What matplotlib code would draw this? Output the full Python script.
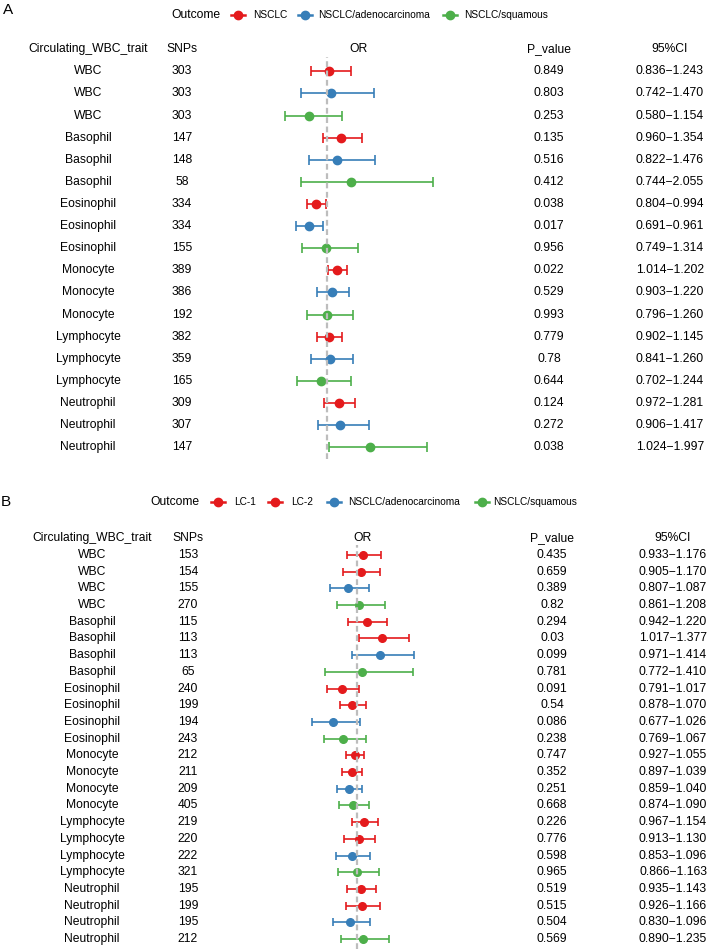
import matplotlib
matplotlib.use("Agg")
import matplotlib.pyplot as plt
from matplotlib.lines import Line2D
from matplotlib.transforms import blended_transform_factory

plt.rcParams['font.family'] = ['Liberation Sans', 'DejaVu Sans']

# ---------------- Panel A data ----------------
traits_a = ['WBC', 'WBC', 'WBC', 'Basophil', 'Basophil', 'Basophil',
            'Eosinophil', 'Eosinophil', 'Eosinophil', 'Monocyte', 'Monocyte', 'Monocyte',
            'Lymphocyte', 'Lymphocyte', 'Lymphocyte', 'Neutrophil', 'Neutrophil', 'Neutrophil']
outcome_a = ['NSCLC', 'NSCLC/adenocarcinoma', 'NSCLC/squamous'] * 6
snps_a = [303, 303, 303, 147, 148, 58, 334, 334, 155, 389, 386, 192, 382, 359, 165, 309, 307, 147]
pval_a = ['0.849', '0.803', '0.253', '0.135', '0.516', '0.412', '0.038', '0.017', '0.956',
          '0.022', '0.529', '0.993', '0.779', '0.78', '0.644', '0.124', '0.272', '0.038']
or_a = [1.019, 1.044, 0.818, 1.140, 1.101, 1.237, 0.894, 0.815, 0.992,
        1.104, 1.050, 1.001, 1.016, 1.029, 0.935, 1.116, 1.133, 1.430]
lo_a = [0.836, 0.742, 0.580, 0.960, 0.822, 0.744, 0.804, 0.691, 0.749,
        1.014, 0.903, 0.796, 0.902, 0.841, 0.702, 0.972, 0.906, 1.024]
hi_a = [1.243, 1.470, 1.154, 1.354, 1.476, 2.055, 0.994, 0.961, 1.314,
        1.202, 1.220, 1.260, 1.145, 1.260, 1.244, 1.281, 1.417, 1.997]

# ---------------- Panel B data ----------------
traits_b = ['WBC'] * 4 + ['Basophil'] * 4 + ['Eosinophil'] * 4 + ['Monocyte'] * 4 + \
           ['Lymphocyte'] * 4 + ['Neutrophil'] * 4
outcome_b = ['LC-1', 'LC-2', 'NSCLC/adenocarcinoma', 'NSCLC/squamous'] * 6
snps_b = [153, 154, 155, 270, 115, 113, 113, 65, 240, 199, 194, 243,
          212, 211, 209, 405, 219, 220, 222, 321, 195, 199, 195, 212]
pval_b = ['0.435', '0.659', '0.389', '0.82', '0.294', '0.03', '0.099', '0.781',
          '0.091', '0.54', '0.086', '0.238', '0.747', '0.352', '0.251', '0.668',
          '0.226', '0.776', '0.598', '0.965', '0.519', '0.515', '0.504', '0.569']
or_b = [1.047, 1.029, 0.937, 1.020, 1.072, 1.183, 1.172, 1.043,
        0.897, 0.969, 0.833, 0.906, 0.989, 0.965, 0.945, 0.976,
        1.056, 1.016, 0.967, 1.004, 1.034, 1.039, 0.954, 1.048]
lo_b = [0.933, 0.905, 0.807, 0.861, 0.942, 1.017, 0.971, 0.772,
        0.791, 0.878, 0.677, 0.769, 0.927, 0.897, 0.859, 0.874,
        0.967, 0.913, 0.853, 0.866, 0.935, 0.926, 0.830, 0.890]
hi_b = [1.176, 1.170, 1.087, 1.208, 1.220, 1.377, 1.414, 1.410,
        1.017, 1.070, 1.026, 1.067, 1.055, 1.039, 1.040, 1.090,
        1.154, 1.130, 1.096, 1.163, 1.143, 1.166, 1.096, 1.235]

headers = ['Circulating_WBC_trait', 'SNPs', 'OR', 'P_value', '95%CI']

colors = {'NSCLC': '#E41A1C', 'LC-1': '#E41A1C', 'LC-2': '#E41A1C',
          'NSCLC/adenocarcinoma': '#377EB8', 'NSCLC/squamous': '#4DAF4A'}

W, H = 709, 949
fig = plt.figure(figsize=(W / 100, H / 100), dpi=100)

TS = 8.7  # table font size


def px_axes(left, right, top, bottom):
    return fig.add_axes([left / W, 1 - bottom / H, (right - left) / W, (bottom - top) / H])


def draw_panel(ax, traits, outcomes, snps, pvals, ors, los, his, xlim, ylim,
               col_x, or_x, cap, ms):
    ax.set_xlim(*xlim)
    ax.set_ylim(*ylim)
    ax.axis('off')
    tr = blended_transform_factory(fig.transFigure, ax.transData)
    n = len(traits)
    for i in range(n):
        c = colors[outcomes[i]]
        ax.errorbar(ors[i], i, xerr=[[ors[i] - los[i]], [his[i] - ors[i]]],
                    fmt='o', color=c, ecolor=c, elinewidth=1.2, capsize=cap,
                    capthick=1.2, markersize=ms, clip_on=False, zorder=3)
        row = [traits[i], str(snps[i]), pvals[i], f"{los[i]:.3f}\u2212{his[i]:.3f}"]
        for x, t in zip(col_x, row):
            ax.text(x / W, i, t, transform=tr, ha='center', va='center',
                    fontsize=TS, color='black')
    ax.axvline(1, color='#BDBDBD', lw=1.6, dashes=(2.6, 1.6), zorder=4)
    hx = [col_x[0], col_x[1], or_x, col_x[2], col_x[3]]
    for x, t in zip(hx, headers):
        ax.text(x / W, -1.0, t, transform=tr, ha='center', va='center',
                fontsize=TS, color='black')


def draw_legend(y, title_x, items):
    fig.text(title_x / W, 1 - y / H, 'Outcome', ha='left', va='center', fontsize=8.7)
    for mx, tx, lab in items:
        c = colors[lab]
        fig.add_artist(Line2D([(mx - 7) / W, (mx + 7) / W], [1 - y / H, 1 - y / H],
                              transform=fig.transFigure, color=c, lw=1.8))
        fig.add_artist(Line2D([mx / W], [1 - y / H], transform=fig.transFigure,
                              marker='o', markersize=6, color=c, lw=0))
        fig.text(tx / W, 1 - y / H, lab, ha='left', va='center', fontsize=7.3)


# ---- Panel A: 1.0 at x=327px, 100 px per unit ----
xa0, xa1 = 0.5, 2.2
ax_a = px_axes(327 + 100 * (xa0 - 1), 327 + 100 * (xa1 - 1), 57, 459)
draw_panel(ax_a, traits_a, outcome_a, snps_a, pval_a, or_a, lo_a, hi_a,
           (xa0, xa1), (17.53, -0.65), [88, 182, 549, 670], 358, 3.8, 6.0)

# ---- Panel B: 1.0 at x=356.5px, 139 px per unit ----
xb0, xb1 = 0.6, 1.5
ax_b = px_axes(356.5 + 139 * (xb0 - 1), 356.5 + 139 * (xb1 - 1), 545, 949)
draw_panel(ax_b, traits_b, outcome_b, snps_b, pval_b, or_b, lo_b, hi_b,
           (xb0, xb1), (23.6, -0.6), [92, 188, 552, 673], 362, 3.2, 5.5)

draw_legend(15, 171, [(238, 253, 'NSCLC'), (305, 318, 'NSCLC/adenocarcinoma'),
                      (450, 464, 'NSCLC/squamous')])
draw_legend(502, 150, [(218, 234, 'LC-1'), (275, 291, 'LC-2'),
                       (334, 348, 'NSCLC/adenocarcinoma'), (482, 493, 'NSCLC/squamous')])

fig.text(3 / W, 1 - 10 / H, 'A', ha='left', va='center', fontsize=11)
fig.text(1 / W, 1 - 502 / H, 'B', ha='left', va='center', fontsize=11)

fig.savefig('out.png', dpi=100, facecolor='white')
